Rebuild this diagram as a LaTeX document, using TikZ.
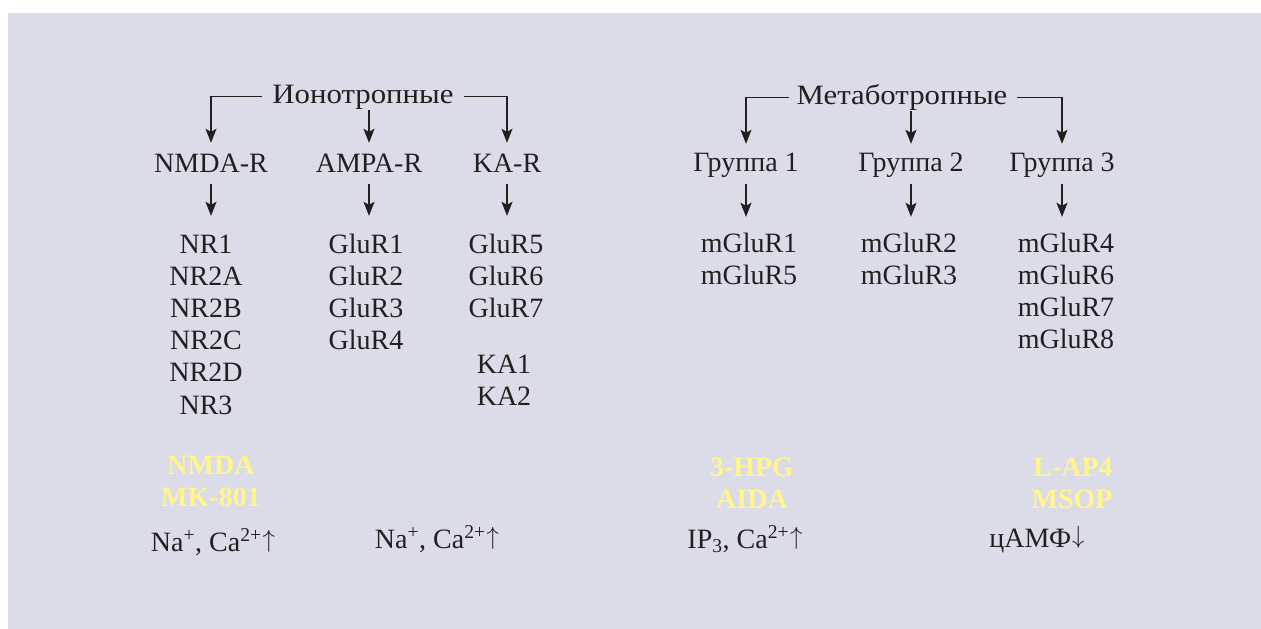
\documentclass[tikz,border=0pt]{standalone}
\usepackage{fontspec}
\setmainfont{Liberation Serif}
\usetikzlibrary{arrows.meta}
\definecolor{panel}{HTML}{DCDCE8}
\definecolor{ink}{HTML}{231F20}
\definecolor{agentyellow}{HTML}{FFF58C}
% thin, full-height arrows after the ion lists
\newcommand{\upar}{\kern1pt\raisebox{4pt}{$\uparrow$}}
\newcommand{\downar}{\kern1pt\raisebox{4pt}{$\downarrow$}}
\begin{document}
\begin{tikzpicture}[x=1pt,y=-1pt,
  lbl/.style={font=\fontsize{28}{32}\selectfont, text=ink, anchor=base,
    inner sep=0pt, text height=20pt, text depth=7pt},
  head/.style={lbl, inner xsep=2pt},
  drug/.style={lbl, font=\fontsize{28}{32}\selectfont\bfseries, text=agentyellow},
  link/.style={draw=ink, line width=1.3pt,
    -{Stealth[length=14pt,width=11pt,inset=3pt]}},
]
% panel and page
\useasboundingbox (0,0) rectangle (1261,629);
\fill[panel] (8,13) rectangle (1261,629);

% ---------- ionotropic branch ----------
\node[head] (iono)  at (363,103) {\scalebox{1.1}[1]{Ионотропные}};
\node[lbl] (nmdar) at (211,172) {NMDA-R};
\node[lbl] (ampar) at (369,172) {AMPA-R};
\node[lbl] (kar)   at (507,172) {KA-R};

\foreach \t [count=\i from 0] in {NR1,NR2A,NR2B,NR2C,NR2D,NR3}
  \node[lbl] (nr\i) at (206,{253+32.2*\i}) {\t};
\foreach \t [count=\i from 0] in {GluR1,GluR2,GluR3,GluR4}
  \node[lbl] (ampa\i) at (366,{253+32.2*\i}) {\t};
\foreach \t [count=\i from 0] in {GluR5,GluR6,GluR7}
  \node[lbl] (ka\i) at (506,{253+32.2*\i}) {\t};
\node[lbl] (ka1sub) at (504,373) {KA1};
\node[lbl] (ka2sub) at (504,405) {KA2};

\node[drug] (nmdaag) at (211,474) {NMDA};
\node[drug] (mk)     at (211,506) {MK-801};

\node[lbl] (ionA) at (213,551) {Na\textsuperscript{+}, Ca\textsuperscript{2+}\upar};
\node[lbl] (ionB) at (437,548) {Na\textsuperscript{+}, Ca\textsuperscript{2+}\upar};

\draw[link, shorten <=8pt, shorten >=9pt] (iono.west) -| (nmdar.north);
\draw[link, shorten <=8pt, shorten >=9pt] (iono.east) -| (kar.north);
\draw[link, shorten >=9pt] (ampar.north |- iono.south) -- (ampar.north);

\draw[link, shorten <=5pt, shorten >=17pt] (nmdar.south) -- (nmdar.south |- nr0.north);
\draw[link, shorten <=5pt, shorten >=17pt] (ampar.south) -- (ampar.south |- ampa0.north);
\draw[link, shorten <=5pt, shorten >=17pt] (kar.south) -- (kar.south |- ka0.north);

% ---------- metabotropic branch ----------
\node[head] (meta) at (902,104) {\scalebox{1.1}[1]{Метаботропные}};
\node[lbl] (g1) at (746,171) {Группа 1};
\node[lbl] (g2) at (911,171) {Группа 2};
\node[lbl] (g3) at (1062,171) {Группа 3};

\foreach \t [count=\i from 0] in {mGluR1,mGluR5}
  \node[lbl] (ma\i) at (749,{252+32*\i}) {\t};
\foreach \t [count=\i from 0] in {mGluR2,mGluR3}
  \node[lbl] (mb\i) at (909,{252+32*\i}) {\t};
\foreach \t [count=\i from 0] in {mGluR4,mGluR6,mGluR7,mGluR8}
  \node[lbl] (mc\i) at (1066,{252+32*\i}) {\t};

\node[drug] (hpg)  at (752,476) {3-HPG};
\node[drug] (aida) at (752,508) {AIDA};
\node[drug] (lap)  at (1073,476) {L-AP4};
\node[drug] (msop) at (1072,508) {MSOP};

\node[lbl] (ip3)  at (745,548) {IP\textsubscript{3}, Ca\textsuperscript{2+}\upar};
\node[lbl] (camp) at (1037,547) {цАМФ\downar};

\draw[link, shorten <=5pt, shorten >=7pt] (meta.west) -| (g1.north);
\draw[link, shorten <=7pt, shorten >=7pt] (meta.east) -| (g3.north);
\draw[link, shorten >=7pt] (g2.north |- meta.south) -- (g2.north);

\draw[link, shorten <=6pt, shorten >=15pt] (g1.south) -- (g1.south |- ma0.north);
\draw[link, shorten <=6pt, shorten >=15pt] (g2.south) -- (g2.south |- mb0.north);
\draw[link, shorten <=6pt, shorten >=15pt] (g3.south) -- (g3.south |- mc0.north);
\end{tikzpicture}
\end{document}
